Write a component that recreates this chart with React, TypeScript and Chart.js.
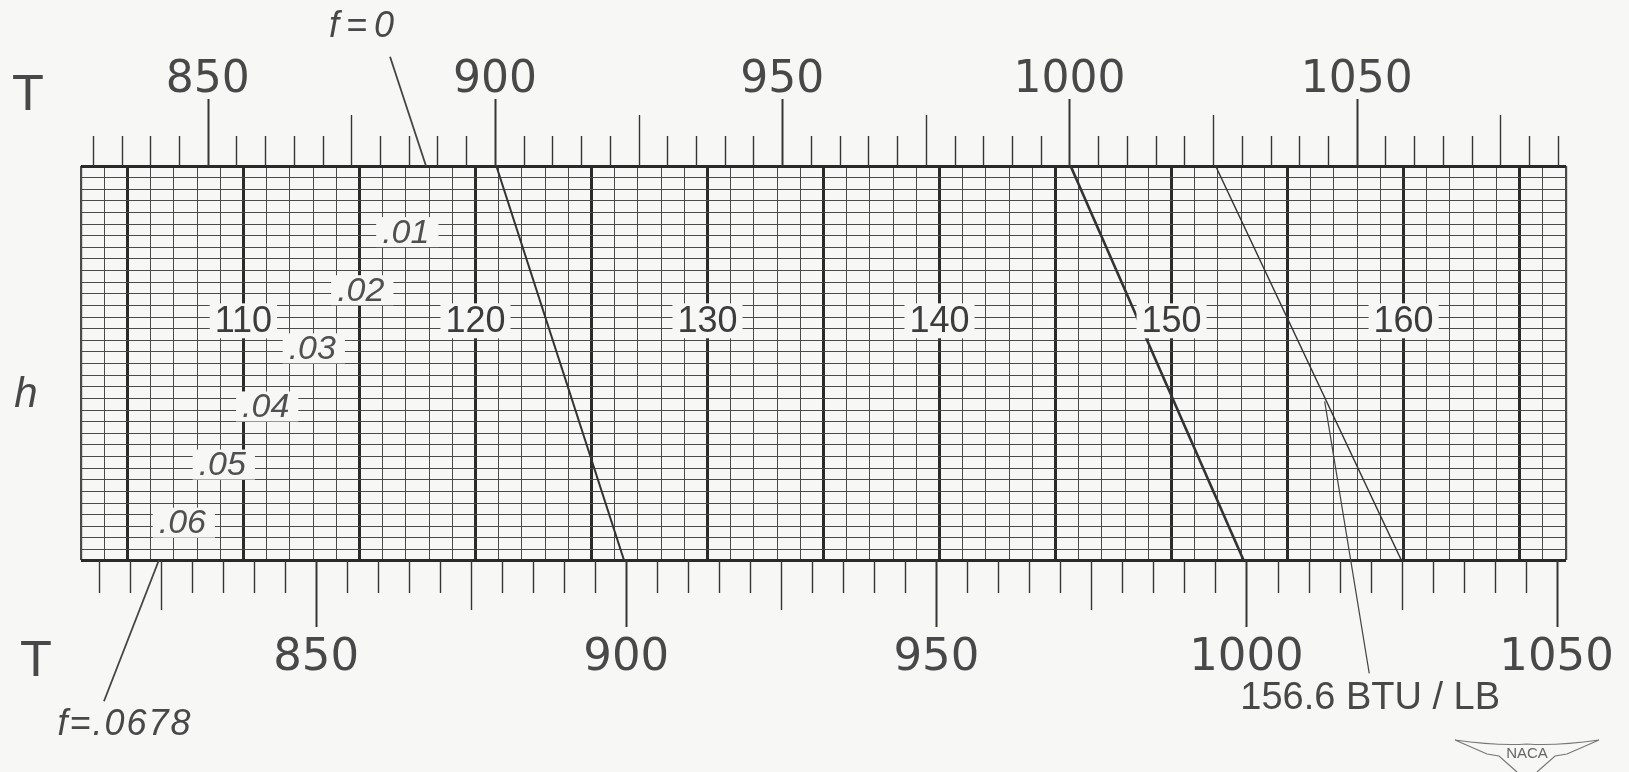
import React, { useEffect, useRef } from 'react';
import { Chart, registerables } from 'chart.js';

Chart.register(...registerables);

// ---- chart values ----
const hRange = [103, 167];            // enthalpy h, horizontal grid axis
const fRange = [0, 0.0678];           // fuel-air ratio f, vertical (top = 0)
const hGridStep = 1;
const fGridStep = 0.002;
const hLabelValues = [110, 120, 130, 140, 150, 160];
const hLabelF = 0.0263;
const fLabelText = ['.01', '.02', '.03', '.04', '.05', '.06'];
const fLabelValues = [0.01, 0.02, 0.03, 0.04, 0.05, 0.06];
const fLabelH = [115.98, 114.04, 111.95, 109.94, 108.07, 106.35];

const topTRange = [830, 1085];
const botTRange = [815, 1050];
const tMinorStep = 5;
const tLabelValues = [850, 900, 950, 1000, 1050];
const topAnchorT = [900, 1000];
const topAnchorH = [120.84, 145.6];
const botAnchorT = [900, 1000];
const botAnchorH = [126.5, 153.23];

const isoT = [900, 1000, 1025];
const isoTopH = [120.9, 145.65, 151.9];
const isoBotH = [126.4, 153.1, 159.9];

const f0LeaderH = [117.87, 116.32];
const f0LeaderF = [0, -0.0188];
const fEndLeaderH = [106.36, 103.99];
const fEndLeaderF = [0.0678, 0.0921];
const btuLeaderH = [156.6, 158.52];
const btuLeaderF = [0.0405, 0.0873];

const f0Label = 'f=0';
const f0LabelAt = [115.11, -0.0243];
const fEndLabel = 'f=.0678';
const fEndLabelAt = [104.9, 0.0962];
const btuLabel = '156.6 BTU / LB';
const btuLabelAt = [158.56, 0.0917];

// ---- styles ----
const BG = '#f7f7f5';
const INK = '#363636';
const TEXT = '#484848';

function tAxisBounds(anchorT: number[], anchorH: number[]) {
  const slope = (anchorH[1] - anchorH[0]) / (anchorT[1] - anchorT[0]);
  return {
    min: anchorT[0] + (hRange[0] - anchorH[0]) / slope,
    max: anchorT[0] + (hRange[1] - anchorH[0]) / slope,
  };
}

function boxedText(ctx: CanvasRenderingContext2D, text: string, x: number, y: number, font: string, align: 'left' | 'center', padL: number, padR: number, boxH: number, color: string) {
  ctx.save();
  ctx.font = font;
  const w = ctx.measureText(text).width;
  const left = align === 'center' ? x - w / 2 : x;
  ctx.fillStyle = BG;
  ctx.fillRect(left - padL, y - boxH / 2, w + padL + padR, boxH);
  ctx.fillStyle = color;
  ctx.textAlign = 'left';
  ctx.textBaseline = 'middle';
  ctx.fillText(text, left, y + 1);
  ctx.restore();
}

const nomogramPlugin = {
  id: 'nomogram',
  beforeDraw(chart: any) {
    const ctx = chart.ctx;
    ctx.save();
    ctx.fillStyle = BG;
    ctx.fillRect(0, 0, chart.width, chart.height);
    ctx.restore();
  },
  afterDatasetsDraw(chart: any) {
    const ctx = chart.ctx;
    const xs = chart.scales.x;
    const ys = chart.scales.y;
    hLabelValues.forEach((h) => {
      boxedText(ctx, String(h), xs.getPixelForValue(h), ys.getPixelForValue(hLabelF) + 2, '36px "Liberation Sans"', 'center', 5, 5, 35, '#3c3c3c');
    });
    fLabelValues.forEach((f, i) => {
      boxedText(ctx, fLabelText[i], xs.getPixelForValue(fLabelH[i]), ys.getPixelForValue(f) + 8, 'italic 34px "Liberation Sans"', 'left', 6, 9, 30, '#505050');
    });
  },
  afterDraw(chart: any) {
    const ctx = chart.ctx as CanvasRenderingContext2D;
    const ca = chart.chartArea;
    const xs = chart.scales.x;
    const ys = chart.scales.y;
    const top = chart.scales.xTop;
    const bot = chart.scales.xBot;
    ctx.save();
    ctx.strokeStyle = INK;
    // top T scale
    for (let t = topTRange[0]; t <= topTRange[1]; t += tMinorStep) {
      const x = Math.round(top.getPixelForValue(t)) + 0.5;
      const major = t % 50 === 0;
      const len = major ? 67 : t % 25 === 0 ? 51 : 30;
      ctx.lineWidth = major ? 2 : 1.4;
      ctx.beginPath();
      ctx.moveTo(x, ca.top);
      ctx.lineTo(x, ca.top - len);
      ctx.stroke();
    }
    // bottom T scale
    for (let t = botTRange[0]; t <= botTRange[1]; t += tMinorStep) {
      const x = Math.round(bot.getPixelForValue(t)) + 0.5;
      const major = t % 50 === 0;
      const len = major ? 67 : t % 25 === 0 ? 50 : 33;
      ctx.lineWidth = major ? 2 : 1.4;
      ctx.beginPath();
      ctx.moveTo(x, ca.bottom);
      ctx.lineTo(x, ca.bottom + len);
      ctx.stroke();
    }
    ctx.fillStyle = TEXT;
    ctx.textAlign = 'center';
    ctx.textBaseline = 'alphabetic';
    ctx.font = '44px "DejaVu Sans"';
    tLabelValues.forEach((t) => {
      ctx.fillText(String(t), top.getPixelForValue(t), ca.top - 74);
    });
    ctx.font = '45px "DejaVu Sans"';
    tLabelValues.forEach((t) => {
      ctx.fillText(String(t), bot.getPixelForValue(t), ca.bottom + 110);
    });
    // axis letters
    ctx.font = '48px "DejaVu Sans"';
    ctx.fillText('T', ca.left - 53, ca.top - 56);
    ctx.fillText('T', ca.left - 45, ca.bottom + 116);
    ctx.font = 'italic 42px "Liberation Sans"';
    ctx.fillText('h', ca.left - 55, ca.top + 241);
    // leader labels
    ctx.font = 'italic 36px "Liberation Sans"';
    (ctx as any).letterSpacing = '7px';
    ctx.textBaseline = 'middle';
    ctx.fillText(f0Label, xs.getPixelForValue(f0LabelAt[0]) + 3, ys.getPixelForValue(f0LabelAt[1]) + 2);
    (ctx as any).letterSpacing = '2px';
    ctx.fillText(fEndLabel, xs.getPixelForValue(fEndLabelAt[0]), ys.getPixelForValue(fEndLabelAt[1]));
    (ctx as any).letterSpacing = '0px';
    ctx.font = '38px "Liberation Sans"';
    ctx.fillText(btuLabel, xs.getPixelForValue(btuLabelAt[0]), ys.getPixelForValue(btuLabelAt[1]));
    // NACA mark
    const cx = chart.width - 102;
    const cy = chart.height - 20;
    ctx.strokeStyle = '#777';
    ctx.lineWidth = 1.2;
    ctx.beginPath();
    ctx.moveTo(cx - 72, cy - 12);
    ctx.quadraticCurveTo(cx - 30, cy - 6, cx, cy - 8);
    ctx.quadraticCurveTo(cx + 30, cy - 6, cx + 72, cy - 12);
    ctx.moveTo(cx - 72, cy - 12);
    ctx.lineTo(cx - 40, cy + 2);
    ctx.lineTo(cx - 28, cy + 4);
    ctx.lineTo(cx - 10, cy + 20);
    ctx.moveTo(cx + 72, cy - 12);
    ctx.lineTo(cx + 40, cy + 2);
    ctx.lineTo(cx + 28, cy + 4);
    ctx.lineTo(cx + 10, cy + 20);
    ctx.stroke();
    ctx.fillStyle = '#666';
    ctx.font = '15px "Liberation Sans"';
    ctx.textBaseline = 'middle';
    ctx.fillText('NACA', cx, cy + 2);
    ctx.restore();
  },
};

export default function App() {
  const ref = useRef<HTMLCanvasElement>(null);
  useEffect(() => {
    document.body.style.margin = '0';
    document.body.style.background = BG;
    const topB = tAxisBounds(topAnchorT, topAnchorH);
    const botB = tAxisBounds(botAnchorT, botAnchorH);
    const isoWidths = [2, 2.6, 1.4];
    const datasets: any[] = isoT.map((t, i) => ({
      label: 'T = ' + t,
      data: [
        { x: isoTopH[i], y: fRange[0] },
        { x: isoBotH[i], y: fRange[1] },
      ],
      showLine: true,
      borderColor: '#333',
      borderWidth: isoWidths[i],
      pointRadius: 0,
    }));
    const leaders = [
      [f0LeaderH, f0LeaderF, 1.8],
      [fEndLeaderH, fEndLeaderF, 1.8],
      [btuLeaderH, btuLeaderF, 1.2],
    ];
    leaders.forEach(([hs, fs, w]: any) => {
      datasets.push({
        label: 'leader',
        data: [
          { x: hs[0], y: fs[0] },
          { x: hs[1], y: fs[1] },
        ],
        showLine: true,
        borderColor: '#444',
        borderWidth: w,
        pointRadius: 0,
        clip: false,
      });
    });
    const fTicks: number[] = [];
    for (let k = 0; k * fGridStep < fRange[1] - 1e-9; k++) fTicks.push(Math.round(k * fGridStep * 1e6) / 1e6);
    fTicks.push(fRange[1]);

    const chart = new Chart(ref.current as HTMLCanvasElement, {
      type: 'scatter',
      data: { datasets },
      plugins: [nomogramPlugin],
      options: {
        animation: false,
        responsive: false,
        events: [],
        layout: { padding: { left: 81, right: 63, top: 166, bottom: 212 } },
        plugins: { legend: { display: false }, tooltip: { enabled: false } },
        scales: {
          x: {
            type: 'linear',
            position: 'bottom',
            min: hRange[0],
            max: hRange[1],
            ticks: { display: false, stepSize: hGridStep },
            border: { display: false },
            grid: {
              drawTicks: false,
              color: (c: any) => (c.tick && c.tick.value % 5 === 0 ? '#2a2a2a' : '#4a4a4a'),
              lineWidth: (c: any) => {
                const v = c.tick ? c.tick.value : 0;
                if (v === hRange[0] || v === hRange[1]) return 2.2;
                return v % 5 === 0 ? 3 : 1;
              },
            },
          },
          y: {
            type: 'linear',
            reverse: true,
            min: fRange[0],
            max: fRange[1],
            ticks: { display: false },
            afterBuildTicks: (scale: any) => {
              scale.ticks = fTicks.map((v) => ({ value: v }));
            },
            border: { display: false },
            grid: {
              drawTicks: false,
              color: (c: any) => (c.tick && (c.tick.value === fRange[0] || c.tick.value === fRange[1]) ? '#2a2a2a' : '#4a4a4a'),
              lineWidth: (c: any) => (c.tick && (c.tick.value === fRange[0] || c.tick.value === fRange[1]) ? 3 : 1),
            },
          },
          xTop: {
            type: 'linear',
            position: 'top',
            display: false,
            min: topB.min,
            max: topB.max,
          },
          xBot: {
            type: 'linear',
            position: 'bottom',
            display: false,
            min: botB.min,
            max: botB.max,
          },
        },
      } as any,
    });
    return () => chart.destroy();
  }, []);
  return (
    <div style={{ width: 1629, height: 772, background: BG }}>
      <canvas ref={ref} width={1629} height={772} style={{ display: 'block' }} />
    </div>
  );
}
